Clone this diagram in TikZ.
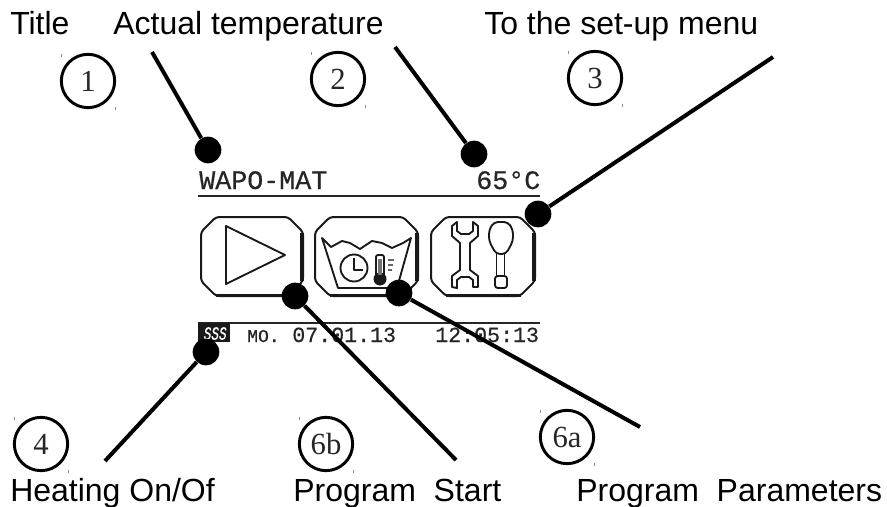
\documentclass[tikz,border=0pt]{standalone}
\usepackage{fontspec}
\setmainfont{Liberation Sans}
\newfontfamily\numfont{Liberation Serif}
\newfontfamily\lcdfont[FakeBold=0.5]{Liberation Mono}
\newcommand{\btnoutline}[2]{%
  \draw[btnline] (#1+15,217) -- (#2-15,217) -- (#2,232) -- (#2,281) -- (#2-15,296) -- (#1+15,296) -- (#1,281) -- (#1,232) -- cycle;
  \draw[heavy] (#1+15,295.5) -- (#2-14,295.5) (#2-1,233) -- (#2-1,281);
}
\tikzset{
  lbl/.style={anchor=base west,inner sep=0pt,font=\fontsize{24}{28}\selectfont,text=black},
  num/.style={circle,draw=black,line width=2.2pt,minimum size=40pt,inner sep=0pt,font=\numfont\fontsize{23}{25}\selectfont,text=black!85},
  dotn/.style={circle,fill=black,minimum size=20pt,inner sep=0pt},
  conn/.style={line width=3pt,black},
  lcd/.style={anchor=base west,inner sep=0pt,font=\lcdfont\fontsize{20}{22}\selectfont,text=black!85},
  lcdsmall/.style={anchor=base west,inner sep=0pt,font=\lcdfont\fontsize{16.2}{18}\selectfont,text=black!85},
  rule/.style={line width=2.1pt,black!85},
  btnline/.style={draw=black!90,line width=1.5pt,rounded corners=2.5pt},
  heavy/.style={line width=2.8pt,black!90},
  ico/.style={line width=1.4pt,black!90,line join=round},
  speck/.style={black!45,line width=.5pt}
}
\begin{document}
\begin{tikzpicture}[x=0.75pt,y=-0.75pt]
\useasboundingbox (0,0) rectangle (887,506);
\fill[white] (0,0) rectangle (887,506);

% labels
\node[lbl] (ltitle) at (10,35) {Title};
\node[lbl] (ltemp) at (113,35) {Actual temperature};
\node[lbl] (lmenu) at (484,35) {To the set-up menu};
\node[lbl] (lheat) at (10,501) {Heating On/Of};
\node[lbl] (lstart) at (293,501) {Program\ \ Start};
\node[lbl] (lpar) at (576,501) {Program\ \ Parameters};

% numbered circles
\node[num] (n1) at (88,81) {1};
\node[num] (n2) at (338,79) {2};
\node[num] (n3) at (595,78) {3};
\node[num] (n4) at (41,444) {4};
\node[num] (n6b) at (326,444) {6b};
\node[num] (n6a) at (567,437) {6a};
\foreach \cx/\cy in {88/81,338/79,595/78,41/444,326/444,567/437}{
  \draw[speck] (\cx-27,\cy-27) -- ++(0,3);
  \draw[speck] (\cx+27,\cy+26) -- ++(0,3);
}

% screen text
\node[lcd] (wapo) at (199,189) {WAPO-MAT};
\node[lcd] (temp) at (476,189) {65°C};
\draw[rule] (198,196) -- (540,196);
\draw[rule] (198,323) -- (540,323);

% play button
\btnoutline{201}{303}
\draw[ico] (226,226) -- (285,255) -- (226,284) -- cycle;

% wash button
\btnoutline{315}{418}
\draw[ico] (322,238) -- (331,247) -- (342,241) -- (350,243) -- (360,249) -- (372,241)
  -- (382,243) -- (392,248) -- (403,243) -- (411,238)
  -- (397,288) -- (338,288) -- cycle;
\draw[ico] (354,268) circle (13.5);
\draw[ico] (354,258) -- (354,270) -- (363,270);
\draw[ico,rounded corners=1.5pt] (376,275) -- (376,255) -- (384,255) -- (384,275);
\fill[black!90] (380,279) circle (6.5);
\fill[black!55] (378,259) rectangle (382,275);
\draw[line width=1.2pt,black!60] (388,260) -- (394,260) (388,265) -- (393,265) (388,270) -- (392,270);

% tools button
\btnoutline{431}{535}
\draw[ico] (457,222) -- (457,231) -- (461,234) -- (469,234) -- (473,231) -- (473,222)
  -- (478,226) -- (478,236) -- (470,243) -- (470,270) -- (478,276) -- (478,287)
  -- (473,287) -- (473,280) -- (469,277) -- (461,277) -- (457,280) -- (457,288)
  -- (452,287) -- (452,276) -- (460,270) -- (460,243) -- (452,236) -- (452,226) -- cycle;
\draw[ico,rounded corners=3pt] (494,222) -- (508,222) -- (513,230) -- (513,241) -- (506,254) -- (496,254) -- (489,241) -- (489,230) -- cycle;
\draw[ico] (496.5,254) -- (496.5,276) (504.5,254) -- (504.5,276);
\draw[ico,rounded corners=2pt] (495,276) rectangle (507,288);

% status line
\fill[black!90] (198,323) rectangle (230,342);
\node[anchor=center,inner sep=0pt,text=white,xscale=.68,transform shape,font=\lcdfont\fontsize{14}{16}\selectfont] (heatico) at (214.5,333.5) {\addfontfeature{FakeSlant=0.2}SSS};
\node[lcdsmall] (date) at (247,342) {{\fontsize{13.5}{15}\selectfont MO.}\hspace{9.5pt}07.01.13};
\node[lcdsmall] (clock) at (435,342) {12:05:13};

% callout dots
\node[dotn] (d1) at (208,150) {};
\node[dotn] (d2) at (474,154) {};
\node[dotn] (d3) at (538,214) {};
\node[dotn] (d4) at (206,352) {};
\node[dotn] (d6b) at (295,296) {};
\node[dotn] (d6a) at (399,293) {};

% connector free ends
\coordinate (e1) at (152,52);
\coordinate (e2) at (395,47);
\coordinate (e3) at (773,57);
\coordinate (e4) at (105,461);
\coordinate (e6b) at (456,460);
\coordinate (e6a) at (640,427);
\draw[conn] (d1) -- (e1);
\draw[conn] (d2) -- (e2);
\draw[conn] (d3) -- (e3);
\draw[conn] (d4) -- (e4);
\draw[conn] (d6b) -- (e6b);
\draw[conn] (d6a) -- (e6a);
\end{tikzpicture}
\end{document}
